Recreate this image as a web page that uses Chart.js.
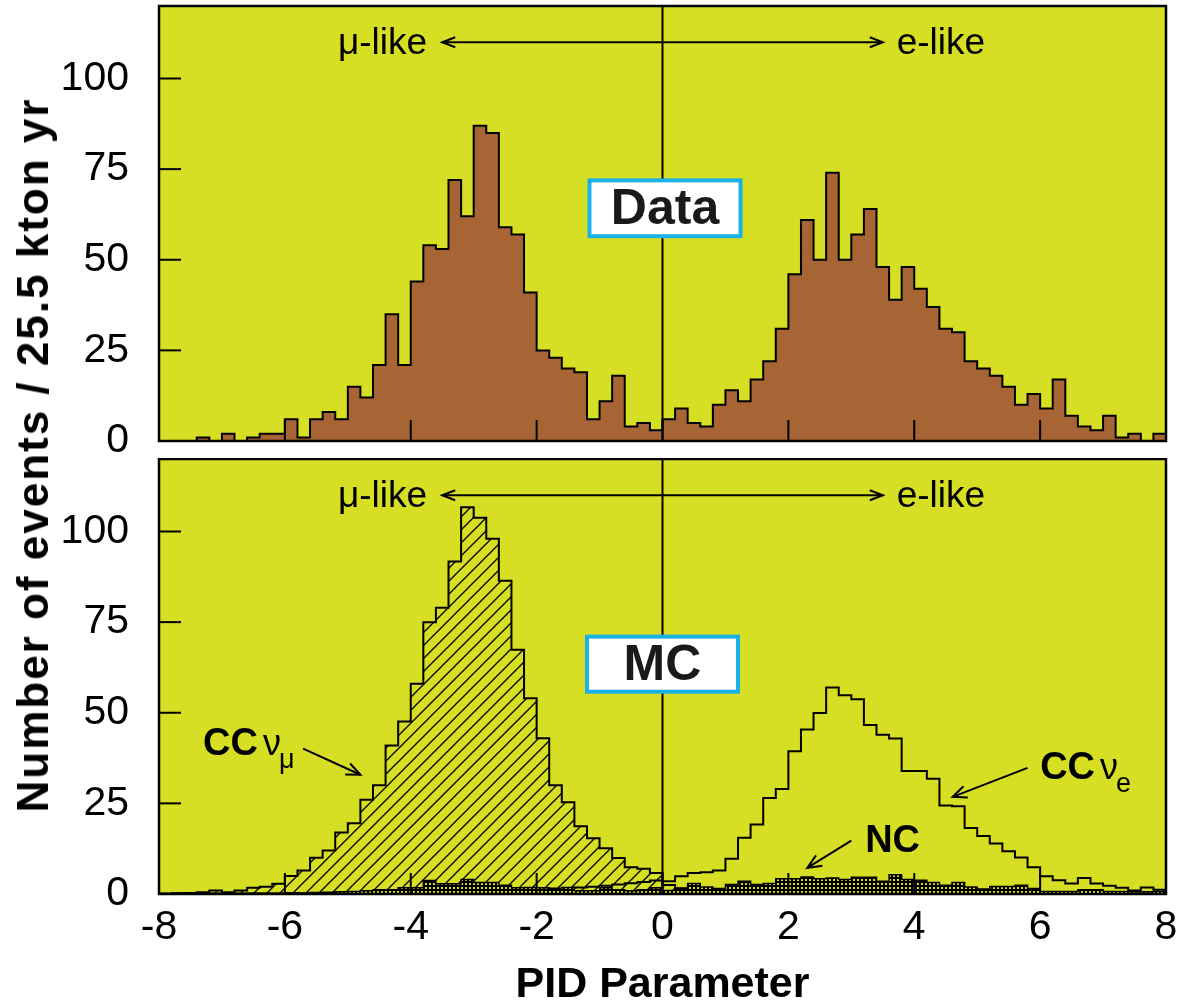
<!DOCTYPE html>
<html>
<head>
<meta charset="utf-8">
<script src="https://cdn.jsdelivr.net/npm/chart.js@4.4.1/dist/chart.umd.min.js"></script>
<style>
  body { margin: 0; background: #fff; width: 1181px; height: 1008px; position: relative; overflow: hidden; }
  #topChart { position: absolute; left: 0; top: 0; }
  #bottomChart { position: absolute; left: 0; top: 458px; }
  #yTitle {
    position: absolute; left: 33px; top: 455px;
    transform: translate(-50%, -50%) rotate(-90deg);
    font: bold 44px 'Liberation Sans', Arial, sans-serif;
    letter-spacing: 2px; white-space: nowrap; color: #000;
  }
</style>
</head>
<body>
<canvas id="topChart" width="1181" height="458"></canvas>
<canvas id="bottomChart" width="1181" height="550"></canvas>
<div id="yTitle">Number of events / 25.5 kton yr</div>
<script>
// PID parameter bins: 80 bins of 0.2 from -8 to 8 (left edges)
const binWidth = 0.2
const binLows = Array.from({ length: 80 }, (_, i) => Math.round((-8 + i * binWidth) * 10) / 10)

const xTicks = [-8, -6, -4, -2, 0, 2, 4, 6, 8]
const yTicks = [0, 25, 50, 75, 100]

// top panel: data
const dataEvents = [
  0, 0, 0, 1, 0, 2, 0, 1, 2, 2,
  6, 1, 6, 8, 6, 15, 12, 21, 35, 21,
  44, 54, 53, 72, 62, 87, 85, 59, 57, 41,
  25, 23, 20, 19, 6, 11, 18, 4, 5, 3,
  6, 9, 5, 4, 10, 14, 11, 17, 22, 31,
  46, 61, 50, 74, 50, 57, 64, 48, 39, 48,
  42, 37, 31, 30, 22, 20, 18, 15, 10, 13,
  9, 17, 7, 4, 3, 7, 1, 2, 0, 2
]

// bottom panel: MC
const mcCCnumu = [
  0, 0.2, 0.3, 0.5, 1.0, 0.5, 1.0, 1.7, 2.0, 2.8,
  5.0, 6.5, 10, 12, 17, 19.5, 26, 30, 41, 47.6,
  58, 75, 79, 91.7, 106.7, 103.8, 98, 86.4, 67.4, 54,
  43, 30, 25.3, 18.7, 15.4, 12.6, 9.9, 7.4, 7.0, 5.8,
  2.5, 1.6, 1.2, 0.9, 0.7, 0.6, 0.5, 0.4, 0.4, 0.3,
  0.3, 0.3, 0.2, 0.2, 0.2, 0.2, 0.2, 0.1, 0.1, 0.1,
  0.1, 0.1, 0.1, 0.1, 0.1, 0.1, 0, 0.1, 0, 0,
  0, 0, 0, 0, 0, 0, 0, 0, 0, 0
]
const mcCCnue = [
  0, 0, 0, 0, 0, 0.1, 0, 0.1, 0.1, 0.1,
  0.2, 0.1, 0.2, 0.2, 0.3, 0.3, 0.3, 0.4, 0.4, 0.5,
  0.5, 0.6, 0.6, 0.7, 0.8, 0.8, 0.9, 1.0, 1.1, 1.2,
  1.3, 1.5, 1.6, 1.8, 2.0, 2.3, 2.6, 3.0, 3.3, 3.7,
  3.5, 4.9, 5.8, 6.0, 6.5, 9.7, 15.5, 19.2, 26.5, 29.0,
  39.4, 45.4, 49.9, 57.0, 54.8, 53.7, 46.6, 43.9, 42.9, 33.9,
  33.9, 31.8, 24.4, 24.2, 18.2, 16.0, 13.9, 11.8, 10.1, 7.4,
  4.9, 3.8, 2.9, 4.4, 2.9, 2.3, 1.7, 1.0, 1.8, 1.2
]
const mcNC = [
  0.2, 0.2, 0.2, 0.2, 0.2, 0.2, 0.2, 0.2, 0.2, 0.2,
  0.3, 0.3, 0.4, 0.5, 0.6, 0.7, 0.9, 1.2, 1.2, 1.7,
  1.7, 3.7, 2.8, 2.8, 4.0, 3.2, 3.2, 2.4, 1.7, 1.8,
  1.7, 1.2, 1.8, 0.9, 0.9, 1.7, 1.2, 0.9, 1.2, 1.7,
  1.0, 1.5, 2.9, 1.9, 1.5, 2.6, 3.5, 2.6, 2.9, 4.2,
  4.2, 4.7, 4.2, 4.4, 4.0, 4.6, 4.6, 3.5, 5.3, 4.0,
  3.8, 3.2, 2.4, 3.2, 1.9, 1.4, 2.1, 2.1, 2.4, 1.5,
  0.7, 0.7, 0.7, 1.2, 1.2, 0.7, 0.7, 0.6, 0.6, 0.7
]

const bgColor = '#d6df23'
const brown = '#a76535'
const boxCyan = '#19b1e6'
const FONT = "'Liberation Sans', Arial, sans-serif"

Chart.defaults.font.family = FONT
Chart.defaults.color = '#000'

// turn bin values into a closed step outline
function histPoints(values) {
  const last = binLows[binLows.length - 1] + binWidth
  const pts = [{ x: binLows[0], y: 0 }]
  values.forEach((v, i) => pts.push({ x: binLows[i], y: v }))
  pts.push({ x: last, y: values[values.length - 1] })
  pts.push({ x: last, y: 0 })
  return pts
}

function makeHatch() {
  const s = 13
  const c = document.createElement('canvas')
  c.width = s; c.height = s
  const g = c.getContext('2d')
  g.strokeStyle = '#000'
  g.lineWidth = 1.3
  g.beginPath()
  g.moveTo(-1, s + 1); g.lineTo(s + 1, -1)
  g.moveTo(-1, 1); g.lineTo(1, -1)
  g.moveTo(s - 1, s + 1); g.lineTo(s + 1, s - 1)
  g.stroke()
  return g.createPattern(c, 'repeat')
}

function makeCross() {
  const c = document.createElement('canvas')
  c.width = 4; c.height = 4
  const g = c.getContext('2d')
  g.fillStyle = '#000'
  g.fillRect(0, 0, 4, 4)
  g.fillStyle = bgColor
  g.fillRect(1, 1, 2, 2)
  return g.createPattern(c, 'repeat')
}

function line(ctx, x1, y1, x2, y2) {
  ctx.beginPath()
  ctx.moveTo(x1, y1)
  ctx.lineTo(x2, y2)
  ctx.stroke()
}

function arrowHead(ctx, fx, fy, tx, ty, len, half) {
  const ang = Math.atan2(ty - fy, tx - fx)
  const bx = tx - len * Math.cos(ang), by = ty - len * Math.sin(ang)
  const nx = -Math.sin(ang) * half, ny = Math.cos(ang) * half
  ctx.beginPath()
  ctx.moveTo(bx + nx, by + ny)
  ctx.lineTo(tx, ty)
  ctx.lineTo(bx - nx, by - ny)
  ctx.stroke()
}

// background, frame, inner tick marks and the zero line
const panelDecor = {
  id: 'panelDecor',
  beforeDatasetsDraw(chart) {
    const { ctx, chartArea: a } = chart
    ctx.save()
    ctx.fillStyle = bgColor
    ctx.fillRect(a.left, a.top, a.right - a.left, a.bottom - a.top)
    ctx.restore()
  },
  afterDatasetsDraw(chart) {
    const { ctx, chartArea: a, scales: { x, y } } = chart
    ctx.save()
    ctx.strokeStyle = '#000'
    ctx.lineWidth = 2
    const x0 = x.getPixelForValue(0)
    line(ctx, x0, a.top, x0, a.bottom)
    xTicks.forEach(v => {
      if (v <= -8 || v >= 8) return
      const px = x.getPixelForValue(v)
      line(ctx, px, a.bottom, px, a.bottom - 21)
    })
    yTicks.forEach(v => {
      const py = y.getPixelForValue(v)
      line(ctx, a.left, py, a.left + 22, py)
    })
    ctx.lineWidth = 2.5
    ctx.strokeRect(a.left, a.top, a.right - a.left, a.bottom - a.top)
    ctx.restore()
  }
}

function drawLikeArrow(chart) {
  const { ctx, scales: { x, y } } = chart
  const py = y.getPixelForValue(110)
  ctx.save()
  ctx.fillStyle = '#000'
  ctx.strokeStyle = '#000'
  ctx.lineWidth = 2
  ctx.font = '37px ' + FONT
  ctx.textBaseline = 'middle'
  ctx.textAlign = 'right'
  ctx.fillText('μ-like', x.getPixelForValue(-3.74), py + 2)
  ctx.textAlign = 'left'
  ctx.fillText('e-like', x.getPixelForValue(3.72), py + 2)
  const xl = x.getPixelForValue(-3.5), xr = x.getPixelForValue(3.5)
  line(ctx, xl, py, xr, py)
  arrowHead(ctx, xr, py, xl, py, 13, 5)
  arrowHead(ctx, xl, py, xr, py, 13, 5)
  ctx.restore()
}

function drawBox(chart, text, x1, x2, y1, y2) {
  const { ctx, scales: { x, y } } = chart
  const l = x.getPixelForValue(x1), r = x.getPixelForValue(x2)
  const t = y.getPixelForValue(y1), b = y.getPixelForValue(y2)
  ctx.save()
  ctx.fillStyle = '#fff'
  ctx.fillRect(l, t, r - l, b - t)
  ctx.strokeStyle = boxCyan
  ctx.lineWidth = 4
  ctx.strokeRect(l, t, r - l, b - t)
  ctx.fillStyle = '#1a1a1a'
  ctx.font = 'bold 50px ' + FONT
  ctx.textAlign = 'center'
  ctx.textBaseline = 'middle'
  ctx.fillText(text, (l + r) / 2, (t + b) / 2 + 2)
  ctx.restore()
}

// "CC" bold + greek letter + subscript
function drawChannel(ctx, px, py, bold, greek, sub) {
  ctx.save()
  ctx.fillStyle = '#000'
  ctx.textAlign = 'left'
  ctx.textBaseline = 'alphabetic'
  ctx.font = 'bold 38px ' + FONT
  ctx.fillText(bold, px, py)
  let cx = px + ctx.measureText(bold).width
  if (greek) {
    cx += 5
    ctx.font = '36px ' + FONT
    ctx.fillText(greek, cx, py)
    cx += ctx.measureText(greek).width - 2
    ctx.font = '27px ' + FONT
    ctx.fillText(sub, cx, py + 13)
  }
  ctx.restore()
}

function drawArrow(chart, fx, fy, tx, ty) {
  const { ctx, scales: { x, y } } = chart
  const x1 = x.getPixelForValue(fx), y1 = y.getPixelForValue(fy)
  const x2 = x.getPixelForValue(tx), y2 = y.getPixelForValue(ty)
  ctx.save()
  ctx.strokeStyle = '#000'
  ctx.lineWidth = 2
  line(ctx, x1, y1, x2, y2)
  arrowHead(ctx, x1, y1, x2, y2, 14, 6)
  ctx.restore()
}

const topLabels = {
  id: 'topLabels',
  afterDraw(chart) {
    drawLikeArrow(chart)
    drawBox(chart, 'Data', -1.16, 1.24, 71.9, 56.5)
  }
}

const bottomLabels = {
  id: 'bottomLabels',
  afterDraw(chart) {
    const { ctx, scales: { x, y } } = chart
    drawLikeArrow(chart)
    drawBox(chart, 'MC', -1.2, 1.2, 71, 55.8)
    drawChannel(ctx, x.getPixelForValue(-7.3), y.getPixelForValue(38.4), 'CC', 'ν', 'μ')
    drawArrow(chart, -5.71, 40.1, -4.8, 32.9)
    drawChannel(ctx, x.getPixelForValue(6.0), y.getPixelForValue(31.6), 'CC', 'ν', 'e')
    drawArrow(chart, 5.8, 34.8, 4.61, 26.8)
    drawChannel(ctx, x.getPixelForValue(3.22), y.getPixelForValue(11.7), 'NC')
    drawArrow(chart, 3.0, 14.7, 2.3, 7.2)
  }
}

// keep the axes from pushing the plot area around
function noPad(s) {
  s.paddingTop = 0
  s.paddingBottom = 0
  s.paddingLeft = 0
  s.paddingRight = 0
}

function yScale() {
  return {
    type: 'linear',
    min: 0,
    max: 120,
    afterFit: s => { s.width = 159; noPad(s) },
    grid: { display: false, drawTicks: false },
    border: { display: false },
    ticks: {
      stepSize: 25,
      includeBounds: false,
      padding: 30,
      font: { size: 41 },
      color: '#000',
      callback: v => (yTicks.includes(v) ? String(v) : '')
    }
  }
}

const stepStyle = { stepped: 'before', pointRadius: 0, borderColor: '#000', borderWidth: 2 }

new Chart(document.getElementById('topChart'), {
  type: 'line',
  data: {
    datasets: [{
      ...stepStyle,
      label: 'Data',
      data: histPoints(dataEvents),
      fill: 'origin',
      backgroundColor: brown
    }]
  },
  options: {
    responsive: false,
    animation: false,
    devicePixelRatio: 1,
    layout: { padding: { top: 6, right: 15, bottom: 17, left: 0 } },
    plugins: { legend: { display: false }, tooltip: { enabled: false } },
    scales: {
      x: { type: 'linear', min: -8, max: 8, display: false, afterFit: noPad },
      y: yScale()
    }
  },
  plugins: [panelDecor, topLabels]
})

new Chart(document.getElementById('bottomChart'), {
  type: 'line',
  data: {
    datasets: [
      { ...stepStyle, label: 'NC', data: histPoints(mcNC), fill: 'origin', backgroundColor: makeCross(), borderWidth: 1.5 },
      { ...stepStyle, label: 'CC nue', data: histPoints(mcCCnue), fill: false },
      { ...stepStyle, label: 'CC numu', data: histPoints(mcCCnumu), fill: 'origin', backgroundColor: makeHatch() }
    ]
  },
  options: {
    responsive: false,
    animation: false,
    devicePixelRatio: 1,
    layout: { padding: { top: 1, right: 15, bottom: 0, left: 0 } },
    plugins: { legend: { display: false }, tooltip: { enabled: false } },
    scales: {
      x: {
        type: 'linear',
        min: -8,
        max: 8,
        afterFit: s => { s.height = 114; noPad(s) },
        grid: { display: false, drawTicks: false },
        border: { display: false },
        ticks: {
          stepSize: 2,
          padding: 9,
          font: { size: 41 },
          color: '#000',
          maxRotation: 0,
          callback: v => (xTicks.includes(v) ? String(v) : '')
        },
        title: {
          display: true,
          text: 'PID Parameter',
          font: { size: 43, weight: 'bold' },
          color: '#000',
          padding: { top: 0, bottom: -3 }
        }
      },
      y: yScale()
    }
  },
  plugins: [panelDecor, bottomLabels]
})
</script>
</body>
</html>
